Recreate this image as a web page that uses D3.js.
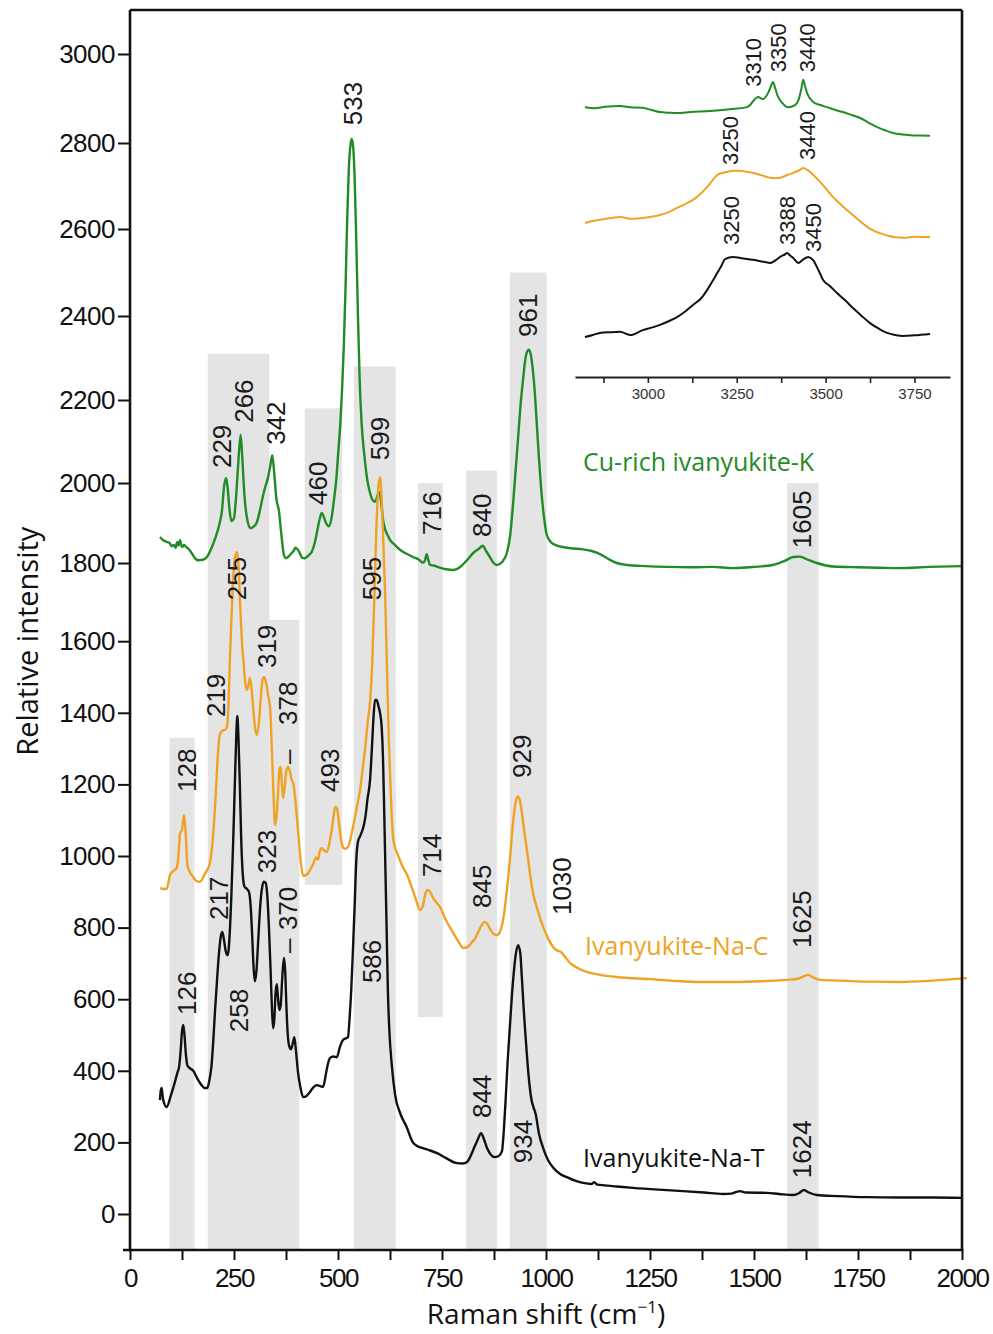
<!DOCTYPE html>
<html><head><meta charset="utf-8">
<script src="https://cdn.jsdelivr.net/npm/d3@7"></script>
<style>body{margin:0;background:#fff}svg{display:block}</style>
</head><body><svg id="c" width="993" height="1334"></svg>
<script>
// ---------------- DATA ----------------
const xTicks = [0,250,500,750,1000,1250,1500,1750,2000];
const xMinorTicks = [125,375,625,875,1125,1375,1625,1875];
const yTicks = [0,200,400,600,800,1000,1200,1400,1600,1800,2000,2200,2400,2600,2800,3000];
const insetTicks = [3000,3250,3500,3750];
const insetMinorTicks = [2875,3125,3375,3625];

// grey bands: [from cm, to cm, bottom intensity, top intensity]
const bands = [[95,155,-100,1330],[187,335,-100,2310],[335,407,-100,1655],[420,510,919,2180],
  [538,639,-100,2280],[692,752,550,2000],[808,882,-100,2030],[913,1002,-100,2500],[1580,1655,-100,2000]];

const greenK = [[72,1865],[80,1857],[88,1853],[95,1850],[100,1842],[105,1845],[110,1838],[113,1852],[117,1844],[120,1857],[125,1840],[130,1845],[135,1840],[140,1836],[150,1822],[158,1810],[164,1807],[175,1808],[185,1815],[195,1835],[205,1862],[216,1902],[221,1930],[226,1990],[231,2012],[235,1985],[239,1935],[244,1905],[250,1912],[256,1980],[261,2060],[266,2116],[270,2060],[275,1970],[280,1920],[285,1895],[290,1887],[296,1890],[305,1902],[312,1930],[318,1960],[325,1990],[331,2010],[337,2040],[342,2067],[347,2020],[352,1960],[358,1930],[364,1870],[370,1820],[375,1812],[380,1815],[386,1822],[393,1830],[398,1838],[402,1835],[408,1825],[414,1813],[420,1812],[428,1818],[437,1828],[444,1850],[450,1880],[456,1910],[461,1925],[466,1915],[472,1898],[478,1892],[484,1910],[490,1955],[496,2010],[501,2080],[506,2150],[510,2230],[514,2330],[518,2460],[522,2620],[526,2740],[530,2795],[533,2809],[536,2795],[540,2720],[544,2570],[548,2400],[552,2250],[557,2140],[563,2070],[570,2010],[577,1975],[583,1958],[589,1953],[593,1962],[597,1975],[600,1977],[604,1950],[608,1910],[614,1882],[620,1868],[625,1858],[637,1845],[649,1833],[665,1823],[680,1815],[695,1808],[704,1801],[709,1806],[713,1822],[717,1808],[721,1795],[732,1793],[745,1788],[760,1784],[777,1782],[795,1791],[810,1807],[825,1825],[838,1835],[848,1843],[856,1830],[865,1815],[874,1800],[882,1795],[894,1802],[906,1825],[914,1870],[921,1950],[927,2030],[933,2110],[939,2190],[945,2250],[950,2295],[955,2316],[959,2320],[963,2310],[968,2275],[973,2220],[978,2140],[983,2060],[988,1990],[994,1925],[1002,1870],[1012,1852],[1025,1844],[1040,1840],[1060,1837],[1089,1834],[1110,1830],[1130,1822],[1150,1810],[1170,1800],[1194,1795],[1240,1792],[1290,1790],[1350,1789],[1400,1790],[1450,1787],[1500,1790],[1545,1795],[1575,1806],[1594,1815],[1610,1816],[1630,1808],[1651,1800],[1690,1791],[1750,1789],[1800,1788],[1851,1787],[1920,1790],[2000,1792]];

const orangeC = [[72,910],[80,908],[88,908],[93,930],[96,947],[104,958],[112,966],[117,1010],[120,1062],[125,1075],[130,1114],[134,1060],[138,975],[144,955],[152,941],[160,930],[168,928],[180,950],[192,980],[200,1060],[206,1170],[211,1280],[216,1340],[222,1350],[229,1353],[233,1360],[237,1430],[240,1547],[244,1660],[248,1760],[252,1810],[257,1827],[261,1790],[265,1690],[269,1600],[273,1540],[277,1485],[281,1464],[285,1478],[288,1497],[292,1470],[297,1400],[301,1355],[305,1338],[310,1375],[315,1450],[319,1495],[322,1500],[327,1485],[332,1450],[337,1410],[341,1300],[345,1170],[349,1087],[353,1120],[356,1180],[359,1240],[362,1249],[365,1205],[368,1162],[372,1195],[376,1240],[380,1249],[384,1238],[388,1215],[393,1200],[398,1150],[404,1070],[410,990],[416,945],[425,948],[433,961],[441,980],[447,996],[452,990],[456,1012],[461,1022],[467,1015],[473,1011],[480,1040],[487,1090],[491,1125],[494,1137],[498,1130],[504,1075],[510,1030],[516,1020],[524,1025],[535,1075],[545,1135],[553,1184],[560,1250],[566,1310],[572,1380],[577,1430],[582,1530],[587,1700],[592,1880],[597,1990],[601,2014],[605,1960],[609,1850],[613,1730],[617,1560],[622,1330],[627,1170],[633,1045],[645,1000],[656,969],[667,945],[677,913],[687,880],[697,849],[704,860],[710,895],[716,905],[721,900],[730,880],[745,858],[760,820],[777,785],[790,760],[801,743],[812,746],[822,760],[830,770],[838,790],[845,806],[852,816],[858,812],[866,795],[874,782],[882,779],[890,790],[898,830],[906,905],[914,1000],[920,1085],[925,1135],[929,1160],[932,1166],[936,1160],[941,1130],[946,1085],[950,1050],[955,1010],[961,955],[969,896],[980,848],[993,802],[1005,770],[1017,746],[1027,736],[1036,732],[1046,718],[1058,701],[1075,688],[1098,676],[1130,668],[1170,662],[1250,656],[1300,652],[1370,648],[1450,648],[1520,650],[1579,654],[1605,657],[1622,665],[1630,668],[1640,662],[1659,654],[1700,652],[1780,649],[1851,648],[1930,652],[2012,659]];

const blackT = [[72,318],[74,345],[76,352],[78,335],[80,318],[88,299],[98,330],[108,369],[114,395],[118,411],[122,460],[125,510],[128,528],[131,500],[134,450],[138,415],[143,408],[152,400],[162,378],[172,360],[180,352],[186,352],[191,375],[196,415],[200,480],[204,560],[209,650],[214,730],[219,780],[222,788],[226,765],[230,735],[235,723],[240,790],[244,900],[248,1040],[252,1200],[255,1320],[258,1391],[261,1320],[264,1200],[267,1060],[271,950],[275,915],[281,908],[286,900],[290,860],[294,770],[297,690],[300,650],[304,680],[308,760],[313,860],[318,915],[322,928],[326,925],[330,890],[334,800],[338,680],[341,580],[344,519],[347,545],[350,620],[353,642],[356,600],[359,570],[362,580],[366,660],[370,715],[373,680],[376,580],[379,505],[383,468],[387,460],[391,475],[395,494],[399,455],[404,394],[410,352],[416,327],[422,328],[428,334],[435,345],[442,355],[449,360],[457,357],[464,355],[472,398],[477,425],[481,436],[489,440],[497,438],[505,468],[512,486],[518,490],[524,494],[528,550],[532,630],[536,740],[540,860],[544,990],[548,1040],[553,1055],[561,1081],[566,1110],[571,1160],[577,1212],[581,1290],[585,1380],[589,1436],[593,1436],[597,1420],[601,1400],[605,1360],[608,1280],[611,1130],[614,960],[617,790],[620,620],[624,500],[629,420],[637,335],[650,280],[665,243],[680,200],[690,190],[704,184],[720,178],[738,170],[760,156],[786,142],[800,141],[810,145],[818,160],[825,179],[835,205],[844,226],[851,208],[858,185],[868,165],[877,159],[886,162],[894,175],[899,240],[903,320],[908,430],[913,520],[918,610],[923,680],[928,730],[933,751],[938,730],[942,660],[946,580],[950,510],[955,430],[960,365],[965,320],[970,298],[975,280],[983,225],[993,185],[1005,150],[1017,130],[1034,112],[1050,103],[1070,93],[1089,87],[1110,84],[1116,89],[1122,83],[1140,80],[1170,77],[1209,73],[1270,68],[1329,64],[1380,60],[1425,56],[1445,57],[1458,62],[1466,64],[1480,60],[1531,59],[1560,56],[1594,53],[1608,58],[1620,67],[1632,60],[1651,53],[1700,50],[1771,47],[1850,46],[1930,46],[2000,45]];

// inset (O-H region), arbitrary intensity units
const insetGreen = [[2823,751],[2850,748],[2880,752],[2922,754],[2950,751],[2986,749],[3010,743],[3034,737],[3060,735],[3082,734],[3120,737],[3175,740],[3230,745],[3279,751],[3290,760],[3296,768],[3310,780],[3324,774],[3338,791],[3346,810],[3352,823],[3358,806],[3364,786],[3378,763],[3394,751],[3414,757],[3425,775],[3432,805],[3437,829],[3442,812],[3448,791],[3465,766],[3485,757],[3504,751],[3530,742],[3549,737],[3575,728],[3597,720],[3620,707],[3645,694],[3670,684],[3690,677],[3715,673],[3738,671],[3765,670],[3794,669]];
const insetOrange = [[2823,420],[2845,426],[2865,429],[2895,434],[2922,437],[2955,432],[2986,434],[3010,438],[3034,443],[3060,452],[3082,463],[3105,474],[3127,486],[3150,505],[3167,523],[3182,542],[3195,557],[3210,563],[3223,566],[3240,569],[3259,569],[3280,566],[3296,563],[3320,556],[3344,549],[3360,548],[3372,549],[3392,557],[3409,563],[3425,570],[3437,577],[3448,572],[3456,566],[3470,553],[3485,537],[3503,516],[3521,494],[3545,471],[3569,449],[3595,427],[3617,409],[3635,398],[3653,391],[3675,384],[3690,380],[3720,378],[3750,381],[3794,380]];
const insetBlack = [[2823,94],[2845,100],[2865,106],[2895,108],[2922,109],[2950,100],[2986,114],[3010,121],[3034,129],[3060,140],[3082,151],[3105,167],[3127,186],[3150,205],[3167,229],[3182,254],[3195,277],[3207,298],[3217,317],[3240,323],[3260,320],[3279,317],[3300,314],[3316,311],[3344,306],[3360,314],[3372,323],[3385,330],[3392,334],[3400,327],[3409,320],[3423,306],[3437,316],[3451,323],[3465,314],[3480,285],[3493,257],[3512,240],[3532,220],[3555,199],[3577,177],[3600,156],[3625,134],[3650,118],[3673,106],[3695,100],[3718,97],[3750,99],[3794,103]];

// peak labels: [text, cm, intensity at text start]
const greenLabels = [["229",221,2036],["266",272,2145],["342",349,2092],["460",452,1945],["533",534,2840],["599",601,2055],["716",724,1870],["840",846,1865],["961",957,2350],["1605",1615,1837]];
const orangeLabels = [["128",135,1179],["219",207,1388],["255",257,1705],["319",329,1525],["–",380,1257],["378",380,1366],["493",481,1179],["595",582,1705],["714",724,941],["845",846,855],["929",942,1218],["1030",1038,835],["1625",1615,743]];
const blackLabels = [["126",135,556],["217",212,821],["258",260,508],["323",329,952],["–",380,729],["370",380,793],["586",582,645],["844",846,268],["934",945,142],["1624",1615,100]];
const insetLabels = [["3310",3296,809],["3350",3366,851],["3440",3448,851],["3250",3231,586],["3440",3448,600],["3250",3234,357],["3388",3392,357],["3450",3465,337]];
const seriesNames = ["Cu-rich ivanyukite-K","Ivanyukite-Na-C","Ivanyukite-Na-T"];
const seriesNamePos = [[1089,2029],[1094,723],[1089,131]];

// ---------------- LAYOUT / STYLE ----------------
const COL = {green:"#1f8c25", orange:"#f0a224", black:"#111111", band:"#e4e4e4", text:"#1a1a1a"};
const svg = d3.select("#c");
const x = d3.scaleLinear().domain([0,2000]).range([130,962]);
const yDom = [-100, ...yTicks, 3100];
const yRng = [1250,1214,1142.4,1070.8,999.2,927.6,856,784.4,712.8,641.2,563,483,400,316,229,143,54,10];
const y = d3.scaleLinear().domain(yDom).range(yRng);
const xi = d3.scaleLinear().domain([2795,3850]).range([575,950]);
const yi = d3.scaleLinear().domain([0,1000]).range([370,20]);

// bands
svg.append("g").selectAll("rect").data(bands).join("rect")
  .attr("x", d=>x(d[0])).attr("width", d=>x(d[1])-x(d[0]))
  .attr("y", d=>y(d[3])).attr("height", d=>y(d[2])-y(d[3]))
  .attr("fill", COL.band);

// curves
const line = d3.line().x(d=>x(d[0])).y(d=>y(d[1])).curve(d3.curveMonotoneX);
[[greenK,COL.green],[orangeC,COL.orange],[blackT,COL.black]].forEach(([d,c])=>{
  svg.append("path").attr("d", line(d)).attr("fill","none").attr("stroke",c)
    .attr("stroke-width",2.4).attr("stroke-linejoin","round");
});

// peak labels
function vlab(g, t, px, py, size){
  g.append("text").attr("transform",`translate(${px},${py}) rotate(-90)`)
    .attr("dy","0.36em").attr("text-anchor","start")
    .attr("font-family","'Liberation Sans', Arial, sans-serif").attr("font-size",size)
    .attr("fill",COL.text).text(t);
}
const gl = svg.append("g");
[...greenLabels, ...orangeLabels, ...blackLabels].forEach(d=>vlab(gl, d[0], x(d[1]), y(d[2]), 26));

// series names
const sc = [COL.green, COL.orange, COL.black];
seriesNames.forEach((n,i)=>{
  svg.append("text").attr("x", x(seriesNamePos[i][0])).attr("y", y(seriesNamePos[i][1]))
    .attr("font-family","'Open Sans', sans-serif").attr("font-size",25)
    .attr("fill", sc[i]).text(n);
});

// main axes
const axStyle = g => {
  g.selectAll(".domain").remove();
  g.selectAll(".tick line").attr("stroke","#111").attr("stroke-width",2);
  g.selectAll(".tick text").attr("font-family","'Liberation Sans', Arial, sans-serif")
    .attr("font-size",26).attr("fill","#111");
};
svg.append("g").attr("transform","translate(130,0)")
  .call(d3.axisLeft(y).tickValues(yTicks).tickSize(12).tickPadding(3).tickFormat(d3.format("d")))
  .call(axStyle).selectAll(".tick text").attr("letter-spacing","-0.5px");
svg.append("g").attr("transform","translate(0,1250)")
  .call(d3.axisBottom(x).tickValues(xTicks).tickSize(10).tickPadding(9).tickFormat(d3.format("d")))
  .call(axStyle).selectAll(".tick text").attr("letter-spacing","-1.5px");
svg.append("g").attr("transform","translate(0,1250)")
  .call(d3.axisBottom(x).tickValues(xMinorTicks).tickSize(10).tickFormat(""))
  .call(axStyle);

// frame
const fr = svg.append("g").attr("stroke","#111").attr("stroke-width",2.6).attr("fill","none");
fr.append("line").attr("x1",x(0)).attr("x2",x(0)).attr("y1",y(3100)).attr("y2",y(-100)+1.3);
fr.append("line").attr("x1",x(0)-7).attr("x2",x(2000)+1.3).attr("y1",y(-100)).attr("y2",y(-100));
fr.append("line").attr("x1",x(0)).attr("x2",x(2000)).attr("y1",y(3100)).attr("y2",y(3100));
fr.append("line").attr("x1",x(2000)).attr("x2",x(2000)).attr("y1",y(3100)).attr("y2",y(-100));

// axis titles
svg.append("text").attr("transform",`translate(38,${y(1600)}) rotate(-90)`)
  .attr("text-anchor","middle").attr("font-family","'Open Sans', sans-serif").attr("font-size",29)
  .attr("fill","#111").text("Relative intensity");
const xt = svg.append("text").attr("x",(x(0)+x(2000))/2).attr("y",1324)
  .attr("text-anchor","middle").attr("font-family","'Open Sans', sans-serif").attr("font-size",28)
  .attr("fill","#111");
xt.append("tspan").text("Raman shift (cm");
xt.append("tspan").attr("font-size",17).attr("dy",-11).text("−1");
xt.append("tspan").attr("dy",11).text(")");

// ---------------- INSET ----------------
const ilin = d3.line().x(d=>xi(d[0])).y(d=>yi(d[1])).curve(d3.curveMonotoneX);
[[insetGreen,COL.green],[insetOrange,COL.orange],[insetBlack,COL.black]].forEach(([d,c])=>{
  svg.append("path").attr("d", ilin(d)).attr("fill","none").attr("stroke",c).attr("stroke-width",2);
});
const gi = svg.append("g");
insetLabels.forEach(d=>vlab(gi, d[0], xi(d[1]), yi(d[2]), 22));
const iax = svg.append("g").attr("transform","translate(0,377)")
  .call(d3.axisBottom(xi).tickValues(insetTicks).tickSize(6).tickPadding(5).tickSizeOuter(0).tickFormat(d3.format("d")));
iax.select(".domain").attr("stroke","#222").attr("stroke-width",1.8);
iax.selectAll(".tick line").attr("stroke","#222").attr("stroke-width",1.6);
iax.selectAll(".tick text").attr("font-family","'Liberation Sans', Arial, sans-serif").attr("font-size",15).attr("fill","#333");
svg.append("g").attr("transform","translate(0,377)")
  .call(d3.axisBottom(xi).tickValues(insetMinorTicks).tickSize(6).tickSizeOuter(0).tickFormat(""))
  .call(g=>{g.select(".domain").remove(); g.selectAll(".tick line").attr("stroke","#222").attr("stroke-width",1.6);});
</script></body></html>
